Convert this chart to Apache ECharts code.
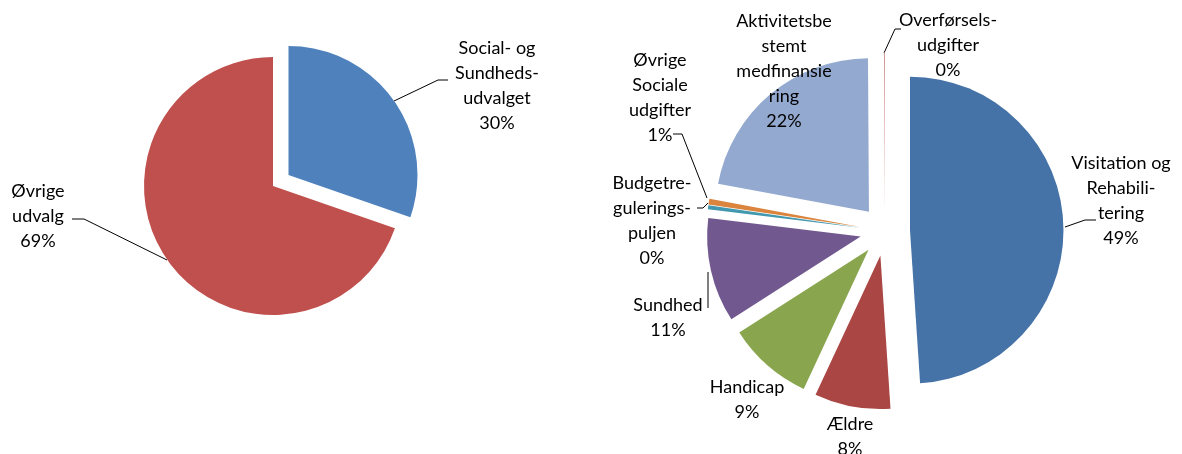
<!DOCTYPE html>
<html>
<head>
<meta charset="utf-8">
<script src="https://cdn.jsdelivr.net/npm/echarts@6/dist/echarts.min.js"></script>
<style>
  html, body { margin: 0; padding: 0; background: #fff; }
  #chart { width: 1182px; height: 454px; }
</style>
</head>
<body>
<div id="chart"></div>
<script>
  // venstre cirkel
  var udvalgNavne = ['Social- og\nSundheds-\nudvalget', 'Øvrige\nudvalg'];
  var udvalgAndel = [30, 69];

  // højre cirkel (procent af udvalget)
  var omraadeNavne = [
    'Visitation og\nRehabili-\ntering',
    'Ældre',
    'Handicap',
    'Sundhed',
    'Budgetre-\ngulerings-\npuljen',
    'Øvrige\nSociale\nudgifter',
    'Aktivitetsbe\nstemt\nmedfinansie\nring',
    'Overførsels-\nudgifter'
  ];
  var omraadeAndel = [49, 8, 9, 11, 0.4, 0.6, 22, 0.1];

  var leftColors = ['#4f81bd', '#c0504d'];
  var rightColors = ['#4572a7', '#aa4643', '#89a54e', '#71588f', '#4198af', '#db843d', '#93a9cf', '#d19392'];

  // label placering (midtpunkt af tekstblok)
  var leftLabelPos = [[497, 86], [38, 216]];
  var rightLabelPos = [[1121, 201], [850, 437], [747, 400], [668, 318], [652, 221], [660, 98], [784, 71], [948, 45]];

  // hjælpelinjer som i Excel-figuren (null = ingen linje)
  var leftLines = [
    [[394, 101], [438, 80], [448, 80]],
    [[167, 260], [84, 219], [72, 219]]
  ];
  var rightLines = [
    [[1065, 227], [1085, 220], [1096, 220]],
    null,
    null,
    [[708, 272], [708, 290], [708, 308]],
    [[708, 203], [703, 208], [697, 208]],
    [[707, 198], [682, 134], [673, 134]],
    null,
    [[884, 53], [895, 29], [901, 29]]
  ];

  var font = 'Lato, "Open Sans", sans-serif';

  // en pie-serie pr. udskilt stykke
  function explodedPie(names, values, colors, center, radius, offsets, labelPos, lines) {
    var total = values.reduce(function (a, b) { return a + b; }, 0);
    var cum = 0;
    var list = [];
    values.forEach(function (v, i) {
      var mid = (cum + v / 2) / total * 2 * Math.PI;
      var off = offsets[i];
      var c = [center[0] + Math.sin(mid) * off, center[1] - Math.cos(mid) * off];
      list.push({
        type: 'pie',
        center: c,
        radius: radius,
        startAngle: 90 - 360 * cum / total,
        clockwise: true,
        avoidLabelOverlap: false,
        stillShowZeroSum: true,
        emphasis: { disabled: true },
        itemStyle: { borderWidth: 0 },
        label: {
          show: true,
          position: 'outside',
          formatter: function (p) { return p.name + '\n' + Math.round(p.value) + '%'; },
          fontFamily: font,
          fontSize: 18,
          lineHeight: 25,
          color: '#000',
          align: 'center'
        },
        labelLine: { show: !!lines[i], lineStyle: { color: '#000', width: 1 } },
        labelLayout: function (p) {
          if (p.dataIndex !== 0) return {};
          var o = { x: labelPos[i][0], y: labelPos[i][1], align: 'center', verticalAlign: 'middle' };
          if (lines[i]) o.labelLinePoints = lines[i];
          return o;
        },
        data: [
          { name: names[i], value: v, itemStyle: { color: colors[i] } },
          {
            name: '', value: total - v,
            itemStyle: { color: 'rgba(0,0,0,0)' },
            label: { show: false }, labelLine: { show: false }
          }
        ]
      });
      cum += v;
    });
    return list;
  }

  var myChart = echarts.init(document.getElementById('chart'));
  myChart.setOption({
    animation: false,
    series: [].concat(
      explodedPie(udvalgNavne, udvalgAndel, leftColors, [273, 186], 129,
        [19, 0], leftLabelPos, leftLines),
      explodedPie(omraadeNavne, omraadeAndel, rightColors, [885, 231], 153.5,
        [25, 25, 25, 25, 25, 25, 25, 25], rightLabelPos, rightLines)
    )
  });
</script>
</body>
</html>
